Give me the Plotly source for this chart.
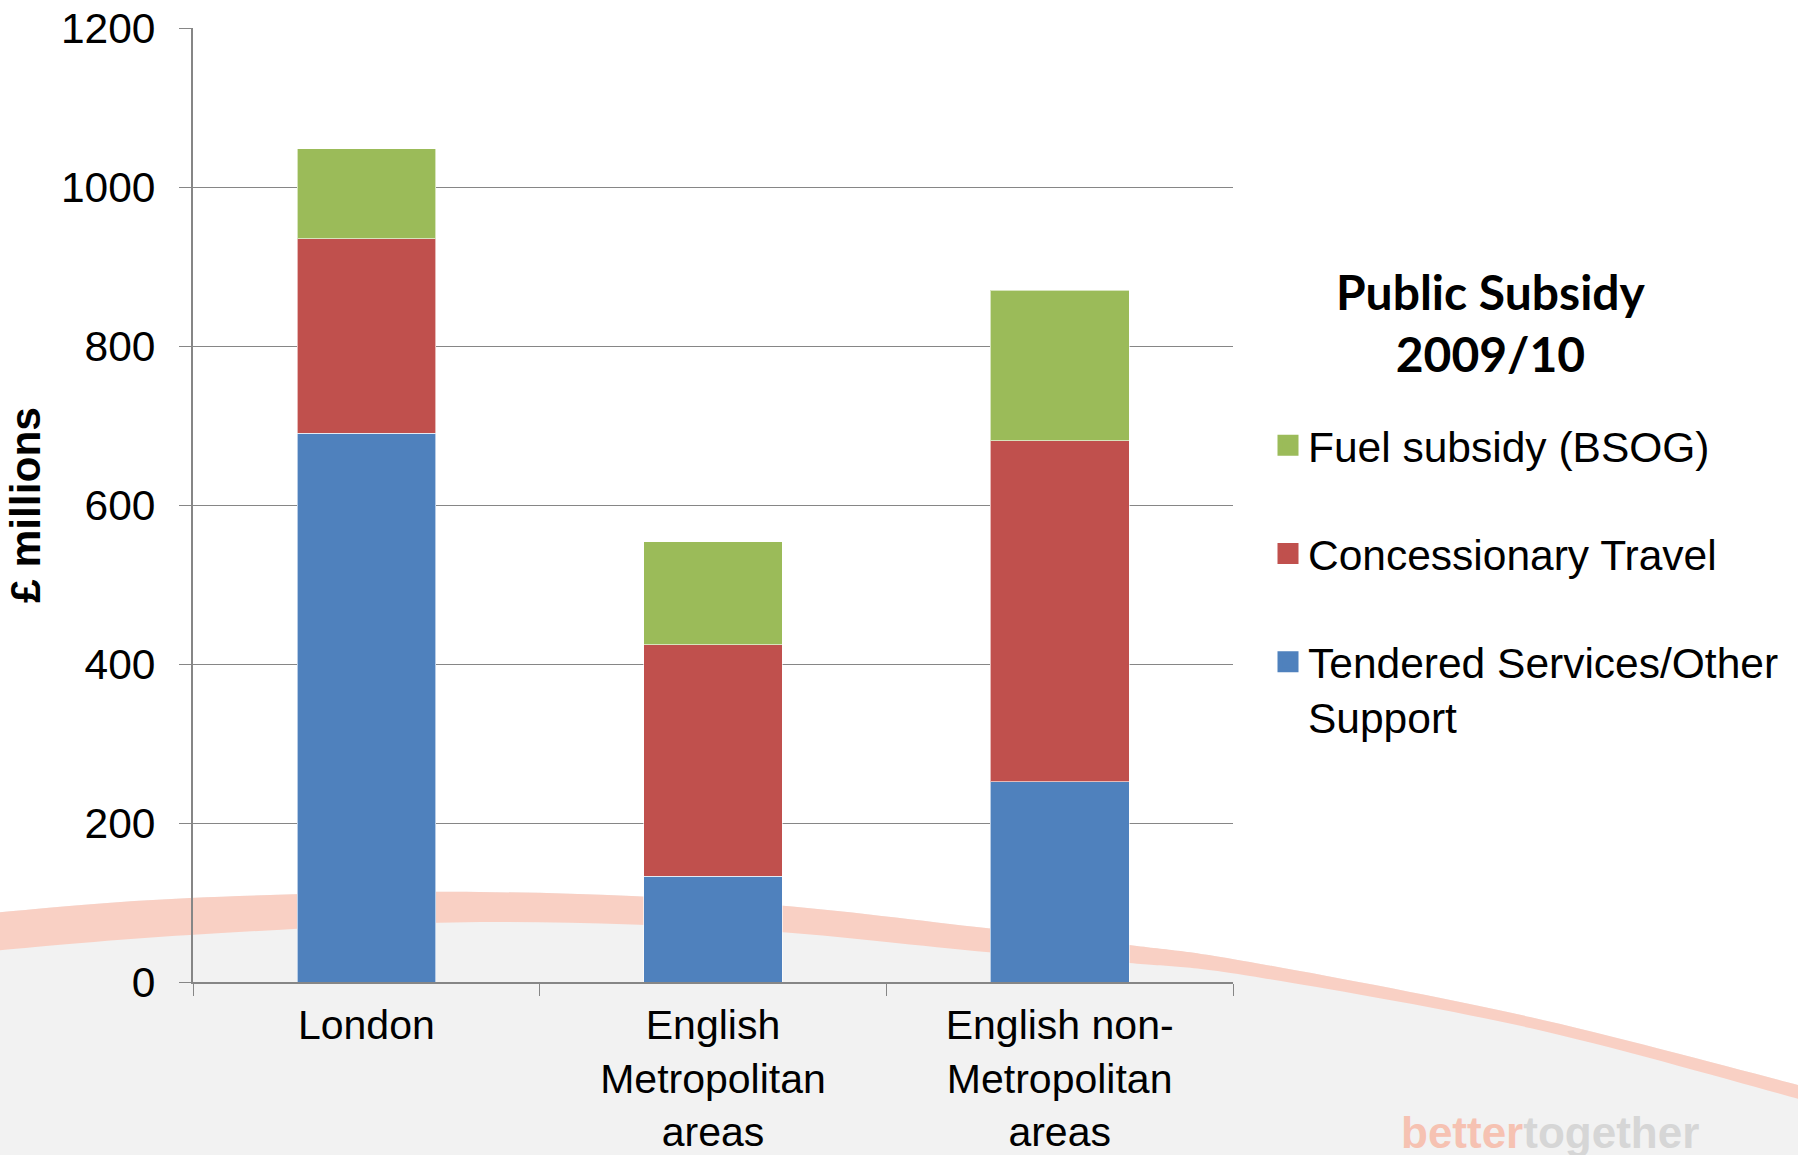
import plotly.graph_objects as go

# ---------------- data ----------------
categories = ["London", "English<br>Metropolitan<br>areas", "English non-<br>Metropolitan<br>areas"]
tendered = [690, 133, 252]
concessionary = [245, 291, 429]
fuel = [113, 130, 189]
series_names = ["Tendered Services/Other<br>Support", "Concessionary Travel", "Fuel subsidy (BSOG)"]
series_colors = ["#4f81bd", "#c0504d", "#9bbb59"]
y_ticks = [0, 200, 400, 600, 800, 1000, 1200]

# ---------------- layout geometry ----------------
W, H = 1798, 1155
ML, MR, MT, MB = 193, 565, 28, 173
PW = W - ML - MR
PH = H - MT - MB
FS = 42.5
FONT = "Liberation Sans, Arial, sans-serif"


def to_paper(X, Y):
    return ((X - ML) / PW, (H - MB - Y) / PH)


def smooth(pts):
    s = ""
    for i in range(len(pts) - 1):
        p0 = pts[i - 1] if i > 0 else pts[i]
        p1 = pts[i]
        p2 = pts[i + 1]
        p3 = pts[i + 2] if i + 2 < len(pts) else pts[i + 1]
        c1 = (p1[0] + (p2[0] - p0[0]) / 6, p1[1] + (p2[1] - p0[1]) / 6)
        c2 = (p2[0] - (p3[0] - p1[0]) / 6, p2[1] - (p3[1] - p1[1]) / 6)
        s += f" C{c1[0]:.5f},{c1[1]:.5f} {c2[0]:.5f},{c2[1]:.5f} {p2[0]:.5f},{p2[1]:.5f}"
    return s


# decorative background swoosh (pixel positions of the slide artwork)
top_edge = [(-10, 913), (190, 898), (480, 892), (750, 903), (986, 928), (1129, 945),
            (1250, 962), (1530, 1017), (1810, 1088)]
bot_edge = [(-10, 951), (190, 935), (480, 922), (750, 930), (986, 952), (1129, 963),
            (1250, 976), (1530, 1028), (1810, 1102)]
top_p = [to_paper(x, y) for x, y in top_edge]
bot_p = [to_paper(x, y) for x, y in bot_edge][::-1]

bl = to_paper(-10, H + 10)
br = to_paper(W + 10, H + 10)
gray_path = (f"M{top_p[0][0]:.5f},{top_p[0][1]:.5f}" + smooth(top_p) +
             f" L{br[0]:.5f},{br[1]:.5f} L{bl[0]:.5f},{bl[1]:.5f} Z")
swoosh_path = (f"M{top_p[0][0]:.5f},{top_p[0][1]:.5f}" + smooth(top_p) +
               f" L{bot_p[0][0]:.5f},{bot_p[0][1]:.5f}" + smooth(bot_p) + " Z")

fig = go.Figure()

values = [tendered, concessionary, fuel]
for name, vals, col in zip(series_names, values, series_colors):
    fig.add_trace(go.Bar(
        x=categories, y=vals, name=name.replace("<br>", " "),
        marker=dict(color=col, line=dict(color="rgba(255,255,255,0.6)", width=1)),
        legendgroup=name, showlegend=False,
    ))

# legend entries (larger square swatches), top-to-bottom order as in the slide
for name, col in list(zip(series_names, series_colors))[::-1]:
    fig.add_trace(go.Scatter(
        x=[None], y=[None], mode="markers", name=name, legendgroup=name,
        marker=dict(symbol="square", size=16, color=col, line=dict(color=col, width=5)),
        showlegend=True, hoverinfo="skip",
    ))

fig.update_layout(
    width=W, height=H,
    margin=dict(l=ML, r=MR, t=MT, b=MB, pad=0, autoexpand=False),
    paper_bgcolor="white",
    plot_bgcolor="rgba(0,0,0,0)",
    barmode="stack",
    bargap=0.6,
    font=dict(family=FONT, size=FS, color="black"),
    showlegend=True,
    legend=dict(
        x=to_paper(1268, 0)[0], xanchor="left",
        y=to_paper(0, 411)[1], yanchor="top",
        font=dict(family=FONT, size=FS, color="black"),
        traceorder="grouped",
        tracegroupgap=50,
        valign="top",
        itemsizing="trace",
        bgcolor="rgba(0,0,0,0)",
        borderwidth=0,
    ),
    shapes=[
        dict(type="path", xref="paper", yref="paper", path=gray_path,
             fillcolor="#f2f2f2", line=dict(width=0), layer="below"),
        dict(type="path", xref="paper", yref="paper", path=swoosh_path,
             fillcolor="#f9d0c4", line=dict(width=0), layer="below"),
    ],
    annotations=[
        dict(text="<b>Public Subsidy<br>2009/10</b>", xref="paper", yref="paper",
             x=to_paper(1491, 0)[0], y=to_paper(0, 322)[1], xanchor="center", yanchor="middle",
             showarrow=False, align="center",
             font=dict(family="Lato, Open Sans, sans-serif", size=48, color="black")),
        dict(text="<span style='color:#f6c2b2'>better</span><span style='color:#d6d6d6'>together</span>",
             xref="paper", yref="paper",
             x=to_paper(1399, 0)[0], y=to_paper(0, 1132)[1], xanchor="left", yanchor="middle",
             showarrow=False,
             font=dict(family=FONT, size=44, weight="bold")),
    ],
)

fig.update_xaxes(
    type="category", automargin=False,
    showline=True, linecolor="#868686", linewidth=2,
    ticks="outside", tickson="boundaries", ticklen=12, tickwidth=1.3, tickcolor="#868686",
    showgrid=False, zeroline=False,
    tickfont=dict(family=FONT, size=41, color="black"),
    ticklabelstandoff=6,
)
fig.update_yaxes(
    range=[0, 1200], tickvals=y_ticks, automargin=False,
    showline=True, linecolor="#868686", linewidth=2,
    showgrid=True, gridcolor="#868686", gridwidth=1.3,
    ticks="outside", ticklen=12, tickwidth=1.3, tickcolor="#868686",
    zeroline=False,
    tickfont=dict(family=FONT, size=FS, color="black"),
    ticklabelstandoff=15,
    title=dict(text="<b>£ millions</b>", standoff=7,
               font=dict(family=FONT, size=FS, color="black")),
)

fig.write_html("out.html")
